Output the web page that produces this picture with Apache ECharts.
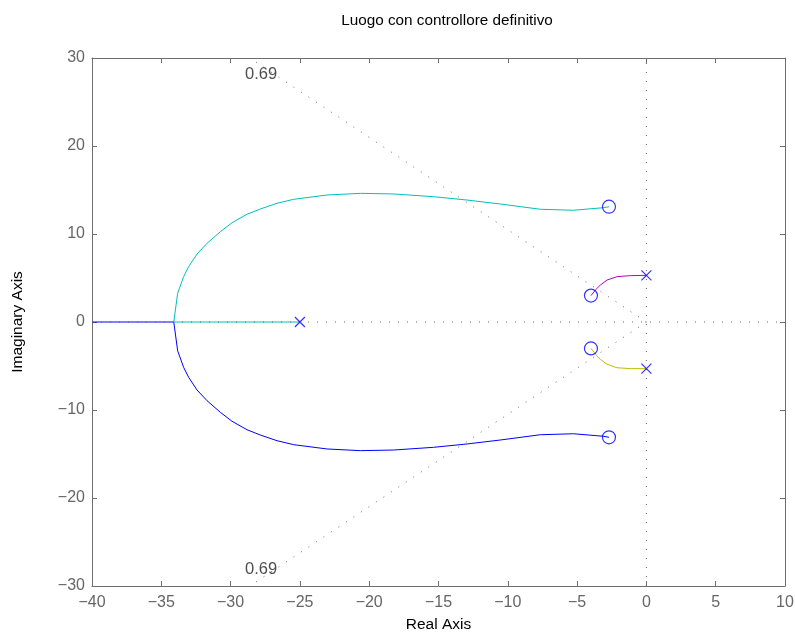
<!DOCTYPE html>
<html>
<head>
<meta charset="utf-8">
<script src="https://cdn.jsdelivr.net/npm/echarts@6/dist/echarts.min.js"></script>
<style>
  html, body { margin: 0; padding: 0; background: #fff; }
  #chart { width: 795px; height: 635px; }
</style>
</head>
<body>
<div id="chart"></div>
<script>
  // luogo delle radici - rami
  const cyanBranch = [
    [-25, 0], [-34.1, 0], [-33.82, 3.27], [-33.39, 5.15], [-33.03, 6.28], [-32.42, 7.73],
    [-31.7, 8.94], [-30.74, 10.26], [-29.9, 11.28], [-28.82, 12.24], [-27.86, 12.84],
    [-26.65, 13.49], [-25.45, 13.94], [-23.04, 14.43], [-20.64, 14.62], [-18.24, 14.55],
    [-15.35, 14.24], [-12.94, 13.86], [-10.54, 13.41], [-7.65, 12.81], [-5.25, 12.7],
    [-3.09, 12.99], [-2.7, 13.1]
  ]
  const blueBranch = [
    [-40, 0], [-34.1, 0], [-33.82, -3.27], [-33.39, -5.15], [-33.03, -6.28], [-32.42, -7.73],
    [-31.7, -8.94], [-30.74, -10.26], [-29.9, -11.28], [-28.82, -12.24], [-27.86, -12.84],
    [-26.65, -13.49], [-25.45, -13.94], [-23.04, -14.43], [-20.64, -14.62], [-18.24, -14.55],
    [-15.35, -14.24], [-12.94, -13.86], [-10.54, -13.41], [-7.65, -12.81], [-5.25, -12.7],
    [-3.09, -12.99], [-2.7, -13.1]
  ]
  const magentaBranch = [
    [0, 5.3], [-1.15, 5.27], [-2.12, 5.15], [-2.84, 4.77], [-3.32, 4.2], [-3.68, 3.64], [-4, 3]
  ]
  const yellowBranch = [
    [0, -5.3], [-1.15, -5.3], [-2.12, -5.2], [-2.84, -4.8], [-3.32, -4.25], [-3.68, -3.64], [-4, -3]
  ]
  const poles = [[-25, 0], [0, 5.3], [0, -5.3]]
  const zeros = [[-2.7, 13.1], [-2.7, -13.1], [-4, 3], [-4, -3]]

  // griglia sgrid
  const dampingUp = [[0, 0], [-28.6, 30]]
  const dampingDown = [[0, 0], [-28.6, -30]]
  const realAxisLine = [[-40, 0], [10, 0]]
  const imagAxisLine = [[0, -30], [0, 30]]
  const dampingLabels = [[-27.8, 28.1, '0.69'], [-27.8, -28.1, '0.69']]

  const xTicks = { min: -40, max: 10, interval: 5 }
  const yTicks = { min: -30, max: 30, interval: 10 }

  const font = 'Liberation Sans, Arial, Helvetica, sans-serif'
  const axisGray = '#6e6e6e'
  const minus = v => String(v).replace('-', '\u2212')

  const chart = echarts.init(document.getElementById('chart'))

  const dotted = (data) => ({
    type: 'line',
    data: data,
    symbol: 'none',
    silent: true,
    lineStyle: { color: '#6a6a6a', width: 1, type: [1, 8] },
    z: 3
  })

  const locus = (data, color) => ({
    type: 'line',
    data: data,
    symbol: 'none',
    silent: true,
    lineStyle: { color: color, width: 1 },
    z: 2
  })

  const baseX = {
    type: 'value',
    min: xTicks.min,
    max: xTicks.max,
    interval: xTicks.interval,
    splitLine: { show: false },
    axisLine: { show: true, onZero: false, lineStyle: { color: axisGray, width: 1 } },
    axisTick: { show: true, inside: true, length: 5, lineStyle: { color: axisGray } }
  }
  const baseY = {
    type: 'value',
    min: yTicks.min,
    max: yTicks.max,
    interval: yTicks.interval,
    splitLine: { show: false },
    axisLine: { show: true, onZero: false, lineStyle: { color: axisGray, width: 1 } },
    axisTick: { show: true, inside: true, length: 5, lineStyle: { color: axisGray } }
  }

  const option = {
    animation: false,
    backgroundColor: '#ffffff',
    textStyle: { fontFamily: font },
    title: {
      text: 'Luogo con controllore definitivo',
      left: 442,
      top: 8,
      textAlign: 'center',
      textStyle: { fontSize: 15.3, fontWeight: 'normal', color: '#000', fontFamily: font }
    },
    grid: { left: 92, top: 58, right: 10, bottom: 49, containLabel: false, outerBoundsMode: 'none' },
    xAxis: [
      Object.assign({}, baseX, {
        position: 'bottom',
        name: 'Real Axis',
        nameLocation: 'middle',
        nameGap: 31,
        nameTextStyle: { fontSize: 15.5, color: '#000', fontFamily: font },
        axisLabel: { fontSize: 16, color: '#666', margin: 9, formatter: minus, fontFamily: font }
      }),
      Object.assign({}, baseX, { position: 'top', axisLabel: { show: false } })
    ],
    yAxis: [
      Object.assign({}, baseY, {
        position: 'left',
        name: 'Imaginary Axis',
        nameLocation: 'middle',
        nameGap: 66,
        nameTextStyle: { fontSize: 15.5, color: '#000', fontFamily: font },
        axisLabel: { fontSize: 16, color: '#666', margin: 7, formatter: minus, fontFamily: font }
      }),
      Object.assign({}, baseY, { position: 'right', axisLabel: { show: false } })
    ],
    series: [
      dotted(realAxisLine),
      dotted(imagAxisLine),
      dotted(dampingUp),
      dotted(dampingDown),
      {
        type: 'scatter',
        data: dampingLabels,
        symbolSize: 0,
        silent: true,
        label: {
          show: true,
          position: 'inside',
          formatter: p => p.value[2],
          fontSize: 16.5,
          color: '#222',
          fontFamily: font
        }
      },
      locus(blueBranch, '#0000ff'),
      locus(cyanBranch, '#00bfbf'),
      locus(magentaBranch, '#bf00bf'),
      locus(yellowBranch, '#bfbf00'),
      {
        type: 'scatter',
        data: poles,
        symbol: 'path://M0,0L10,10M10,0L0,10',
        symbolSize: 10,
        silent: true,
        itemStyle: { color: 'none', borderColor: '#0000ff', borderWidth: 1.2 },
        z: 5
      },
      {
        type: 'scatter',
        data: zeros,
        symbol: 'circle',
        symbolSize: 13,
        silent: true,
        itemStyle: { color: 'none', borderColor: '#0000ff', borderWidth: 1.2 },
        z: 5
      }
    ]
  }

  chart.setOption(option)
</script>
</body>
</html>
